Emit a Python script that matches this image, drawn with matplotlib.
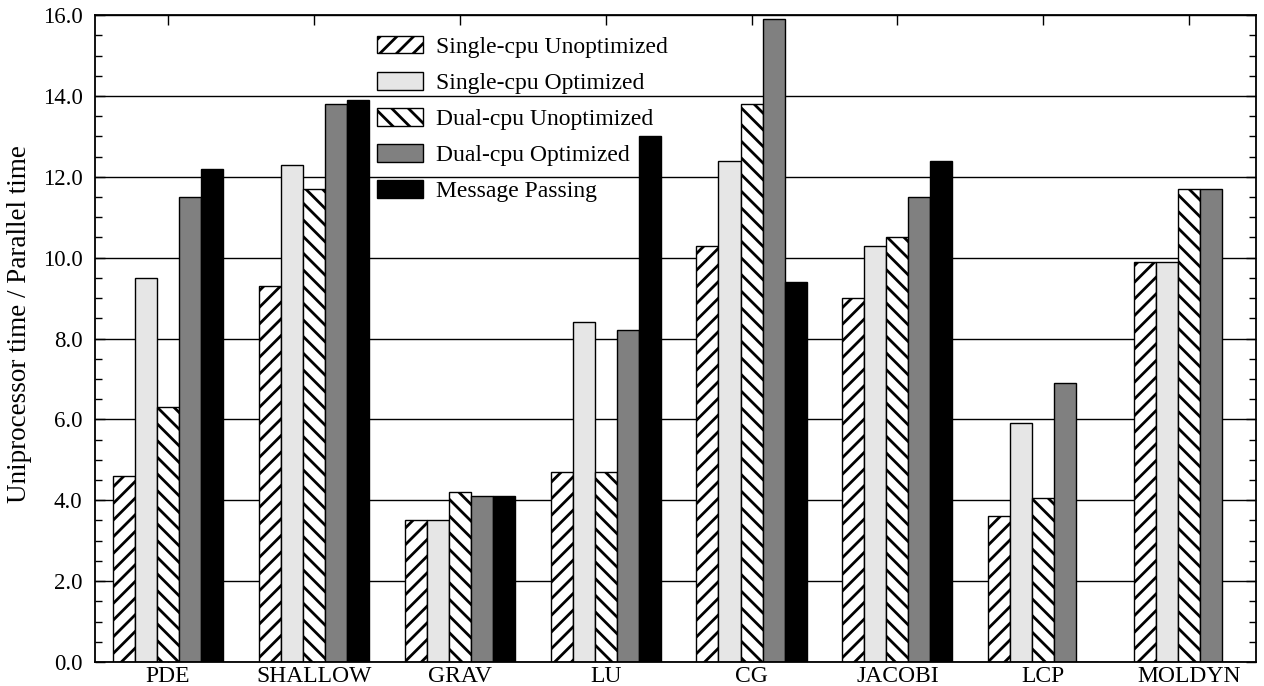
import numpy as np
import matplotlib
matplotlib.use("Agg")
import matplotlib.pyplot as plt
from matplotlib.ticker import MultipleLocator, FormatStrFormatter


benchmarks = ["PDE", "SHALLOW", "GRAV", "LU", "CG", "JACOBI", "LCP", "MOLDYN"]

single_unopt = [4.6, 9.3, 3.5, 4.7, 10.3, 9.0, 3.6, 9.9]
single_opt = [9.5, 12.3, 3.5, 8.4, 12.4, 10.3, 5.9, 9.9]
dual_unopt = [6.3, 11.7, 4.2, 4.7, 13.8, 10.5, 4.05, 11.7]
dual_opt = [11.5, 13.8, 4.1, 8.2, 15.9, 11.5, 6.9, 11.7]
message_passing = [12.2, 13.9, 4.1, 13.0, 9.4, 12.4, 0.0, 0.0]

series_labels = [
    "Single-cpu Unoptimized",
    "Single-cpu Optimized",
    "Dual-cpu Unoptimized",
    "Dual-cpu Optimized",
    "Message Passing",
]


plt.rcParams["font.family"] = ["Liberation Serif", "DejaVu Serif"]
plt.rcParams["font.size"] = 16
plt.rcParams["hatch.linewidth"] = 2.0

fig = plt.figure(figsize=(12.64, 6.86), dpi=100)
ax = fig.add_axes([0.0752, 0.035, 0.9187, 0.943])

series = [single_unopt, single_opt, dual_unopt, dual_opt, message_passing]
colors = ["white", "#e6e6e6", "white", "#808080", "black"]
hatches = ["//", None, "\\\\", None, None]

x = np.arange(len(benchmarks))
width = 0.151

for i, values in enumerate(series):
    ax.bar(
        x + (i - 2) * width,
        values,
        width,
        color=colors[i],
        edgecolor="black",
        linewidth=1.0,
        hatch=hatches[i],
        label=series_labels[i],
        zorder=2,
    )

ax.set_xlim(-0.5, 7.46)
ax.set_ylim(0, 16)
ax.set_xticks(x)
ax.set_xticklabels(benchmarks, fontsize=17)
ax.yaxis.set_major_locator(MultipleLocator(2))
ax.yaxis.set_minor_locator(MultipleLocator(0.5))
ax.yaxis.set_major_formatter(FormatStrFormatter("%.1f"))

ax.grid(axis="y", color="black", linewidth=1.0, zorder=0)
ax.set_axisbelow(True)

ax.tick_params(axis="both", which="both", direction="in",
               top=True, right=True, width=1.0)
ax.tick_params(axis="x", which="major", length=7, pad=3)
ax.tick_params(axis="y", which="major", length=7, pad=9, labelsize=16.5)
ax.tick_params(axis="y", which="minor", length=5)

for spine in ax.spines.values():
    spine.set_linewidth(1.3)

ax.set_ylabel("Uniprocessor time / Parallel time", fontsize=19.5)
ax.yaxis.set_label_coords(-0.054, 0.522)

ax.legend(
    loc="upper left",
    bbox_to_anchor=(0.235, 0.982),
    frameon=False,
    fontsize=17,
    handlelength=1.95,
    handleheight=0.75,
    handletextpad=0.55,
    labelspacing=0.6,
    borderaxespad=0.0,
)

fig.savefig("out.png", dpi=100)
